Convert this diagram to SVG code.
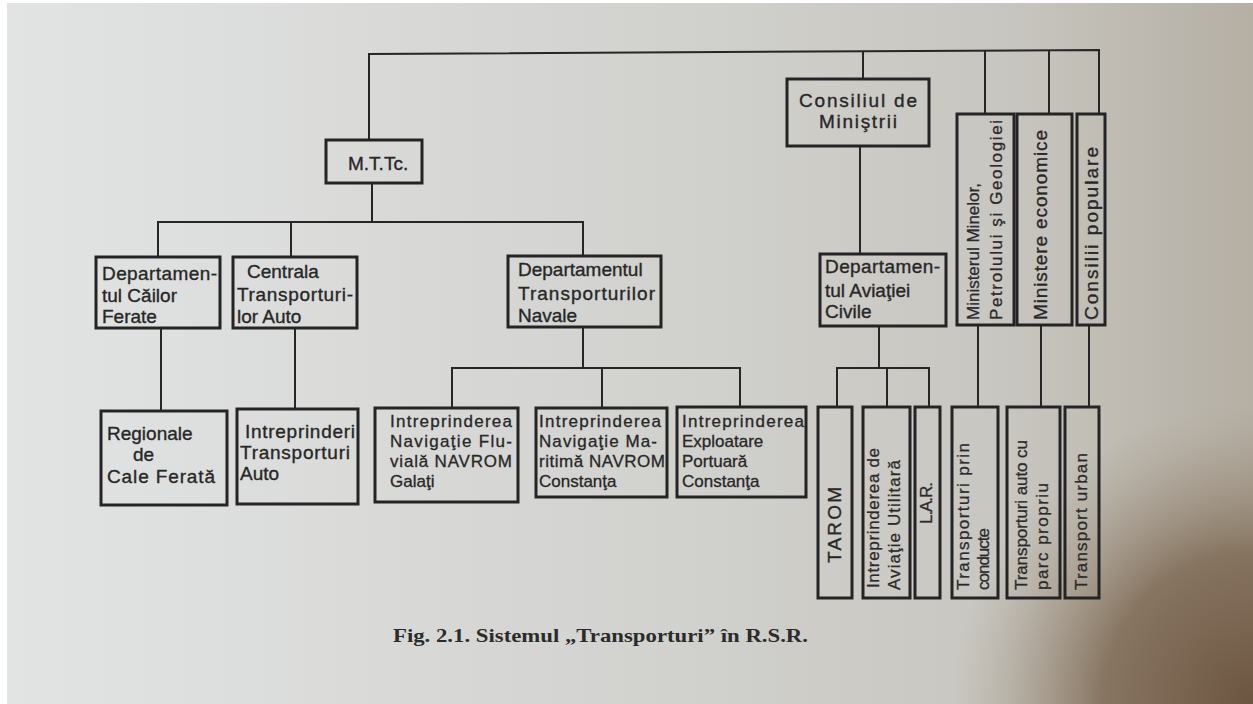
<svg xmlns="http://www.w3.org/2000/svg" width="1253" height="704" viewBox="0 0 1253 704">
<defs>
<linearGradient id="bg" x1="0" y1="0" x2="1" y2="0">
<stop offset="0" stop-color="#e2e4e4"/>
<stop offset="0.45" stop-color="#d4d5d2"/>
<stop offset="0.8" stop-color="#c8c6c0"/>
<stop offset="1" stop-color="#b5afa4"/>
</linearGradient>
<radialGradient id="corner" cx="1253" cy="704" r="300" gradientUnits="userSpaceOnUse">
<stop offset="0" stop-color="#6c5540" stop-opacity="1"/>
<stop offset="0.5" stop-color="#7d6853" stop-opacity="0.85"/>
<stop offset="1" stop-color="#a49886" stop-opacity="0"/>
</radialGradient>
<style>
.box{fill:none;stroke:#242424;stroke-width:3}
.ln{fill:none;stroke:#262626;stroke-width:2}
.t{font-family:"Liberation Sans",Arial,sans-serif;font-size:19px;fill:#272727;stroke:#272727;stroke-width:0.35}
.s{font-family:"Liberation Sans",Arial,sans-serif;font-size:17px;fill:#272727;stroke:#272727;stroke-width:0.3}
.r{font-family:"Liberation Sans",Arial,sans-serif;font-size:17px;fill:#2a2a2a;stroke:#2a2a2a;stroke-width:0.3}
.cap{font-family:"Liberation Serif","Times New Roman",serif;font-size:19px;font-weight:bold;fill:#2b2b2b}
</style>
</defs>
<rect width="1253" height="704" fill="#ffffff"/>
<rect x="7" y="3" width="1246" height="701" fill="url(#bg)"/>
<rect x="7" y="3" width="1246" height="701" fill="url(#corner)"/>

<g id="connectors">
<polyline class="ln" points="369,140 369,54 1099,50 1099,114"/>
<line class="ln" x1="863" y1="51" x2="863" y2="79"/>
<line class="ln" x1="985" y1="51" x2="985" y2="114"/>
<line class="ln" x1="1049" y1="50" x2="1049" y2="114"/>
<line class="ln" x1="372" y1="183" x2="372" y2="222"/>
<polyline class="ln" points="158,257 158,222 583,222 583,256"/>
<line class="ln" x1="291" y1="222" x2="291" y2="257"/>
<line class="ln" x1="161" y1="328" x2="161" y2="411"/>
<line class="ln" x1="295" y1="328" x2="295" y2="409"/>
<line class="ln" x1="583" y1="327" x2="583" y2="368"/>
<polyline class="ln" points="452,408 452,368 740,368 740,407"/>
<line class="ln" x1="602" y1="368" x2="602" y2="408"/>
<line class="ln" x1="860" y1="146" x2="860" y2="254"/>
<line class="ln" x1="879" y1="326" x2="879" y2="368"/>
<polyline class="ln" points="837,407 837,368 929,368 929,407"/>
<line class="ln" x1="887" y1="368" x2="887" y2="407"/>
<line class="ln" x1="978" y1="325" x2="978" y2="407"/>
<line class="ln" x1="1041" y1="325" x2="1041" y2="407"/>
<line class="ln" x1="1089" y1="325" x2="1089" y2="407"/>
</g>

<g id="mttc">
<rect class="box" x="326" y="140" width="96" height="43"/>
<text class="t" x="348" y="170">M.T.Tc.</text>
</g>

<g id="dept-cailor-ferate">
<rect class="box" x="96" y="257" width="124" height="71"/>
<text class="t" x="102" y="280" textLength="115">Departamen-</text>
<text class="t" x="102" y="302">tul  Căilor</text>
<text class="t" x="102" y="323">Ferate</text>
</g>

<g id="centrala-auto">
<rect class="box" x="233" y="257" width="124" height="71"/>
<text class="t" x="247" y="278">Centrala</text>
<text class="t" x="237" y="301" textLength="116">Transporturi-</text>
<text class="t" x="237" y="323">lor  Auto</text>
</g>

<g id="dept-navale">
<rect class="box" x="508" y="256" width="153" height="71"/>
<text class="t" x="518" y="276">Departamentul</text>
<text class="t" x="518" y="300" textLength="137">Transporturilor</text>
<text class="t" x="518" y="322">Navale</text>
</g>

<g id="regionale">
<rect class="box" x="101" y="411" width="126" height="94"/>
<text class="t" x="107" y="440">Regionale</text>
<text class="t" x="133" y="461">de</text>
<text class="t" x="107" y="483" textLength="108">Cale  Ferată</text>
</g>

<g id="intreprinderi-auto">
<rect class="box" x="237" y="409" width="121" height="95"/>
<text class="t" x="245" y="438" textLength="110">Intreprinderi</text>
<text class="t" x="240" y="459" textLength="110">Transporturi</text>
<text class="t" x="240" y="480">Auto</text>
</g>

<g id="navrom-galati">
<rect class="box" x="375" y="408" width="143" height="94"/>
<text class="s" x="390" y="427" textLength="122">Intreprinderea</text>
<text class="s" x="390" y="447" textLength="122">Navigaţie Flu-</text>
<text class="s" x="390" y="467" textLength="122">vială NAVROM</text>
<text class="s" x="390" y="487">Galaţi</text>
</g>

<g id="navrom-constanta">
<rect class="box" x="536" y="408" width="131" height="89"/>
<text class="s" x="539" y="427" textLength="122">Intreprinderea</text>
<text class="s" x="539" y="447" textLength="118">Navigaţie Ma-</text>
<text class="s" x="539" y="467" textLength="126">ritimă NAVROM</text>
<text class="s" x="539" y="487">Constanţa</text>
</g>

<g id="portuara-constanta">
<rect class="box" x="677" y="407" width="129" height="90"/>
<text class="s" x="682" y="427" textLength="122">Intreprinderea</text>
<text class="s" x="682" y="447">Exploatare</text>
<text class="s" x="682" y="467">Portuară</text>
<text class="s" x="682" y="487">Constanţa</text>
</g>

<g id="consiliul-ministrii">
<rect class="box" x="787" y="79" width="142" height="67"/>
<text class="t" x="858" y="107" text-anchor="middle" textLength="118">Consiliul  de</text>
<text class="t" x="858" y="128" text-anchor="middle" textLength="78">Miniştrii</text>
</g>

<g id="dept-aviatiei">
<rect class="box" x="820" y="254" width="126" height="72"/>
<text class="t" x="825" y="273" textLength="115">Departamen-</text>
<text class="t" x="825" y="297">tul  Aviaţiei</text>
<text class="t" x="825" y="318">Civile</text>
</g>

<g id="ministerul-minelor">
<rect class="box" x="957" y="114" width="57" height="211"/>
<text class="r" transform="translate(979,320) rotate(-90)" textLength="137">Ministerul Minelor,</text>
<text class="r" transform="translate(1002,320) rotate(-90)" textLength="200">Petrolului  şi  Geologiei</text>
</g>

<g id="ministere-economice">
<rect class="box" x="1017" y="114" width="55" height="211"/>
<text class="t" transform="translate(1047,320) rotate(-90)" textLength="190">Ministere economice</text>
</g>

<g id="consilii-populare">
<rect class="box" x="1077" y="114" width="28" height="211"/>
<text class="t" transform="translate(1098,320) rotate(-90)" textLength="173">Consilii  populare</text>
</g>

<g id="tarom">
<rect class="box" x="818" y="407" width="34" height="191"/>
<text class="t" transform="translate(841,563) rotate(-90)" textLength="76">TAROM</text>
</g>

<g id="aviatie-utilitara">
<rect class="box" x="863" y="407" width="47" height="191"/>
<text class="r" transform="translate(879,588) rotate(-90)" textLength="140">Intreprinderea  de</text>
<text class="r" transform="translate(900,590) rotate(-90)" textLength="130">Aviaţie Utilitară</text>
</g>

<g id="lar">
<rect class="box" x="915" y="407" width="25" height="191"/>
<text class="r" transform="translate(932,524) rotate(-90)" textLength="42">L.A.R.</text>
</g>

<g id="transport-conducte">
<rect class="box" x="952" y="407" width="46" height="191"/>
<text class="r" transform="translate(969,590) rotate(-90)" textLength="147">Transporturi  prin</text>
<text class="r" transform="translate(989,590) rotate(-90)" textLength="62">conducte</text>
</g>

<g id="transport-auto-parc">
<rect class="box" x="1007" y="407" width="53" height="191"/>
<text class="r" transform="translate(1027,590) rotate(-90)" textLength="150">Transporturi auto cu</text>
<text class="r" transform="translate(1048,590) rotate(-90)" textLength="107">parc  propriu</text>
</g>

<g id="transport-urban">
<rect class="box" x="1065" y="407" width="34" height="191"/>
<text class="r" transform="translate(1087,590) rotate(-90)" textLength="137">Transport urban</text>
</g>

<text class="cap" x="393" y="642" textLength="415" lengthAdjust="spacingAndGlyphs">Fig. 2.1. Sistemul „Transporturi” în R.S.R.</text>
</svg>
